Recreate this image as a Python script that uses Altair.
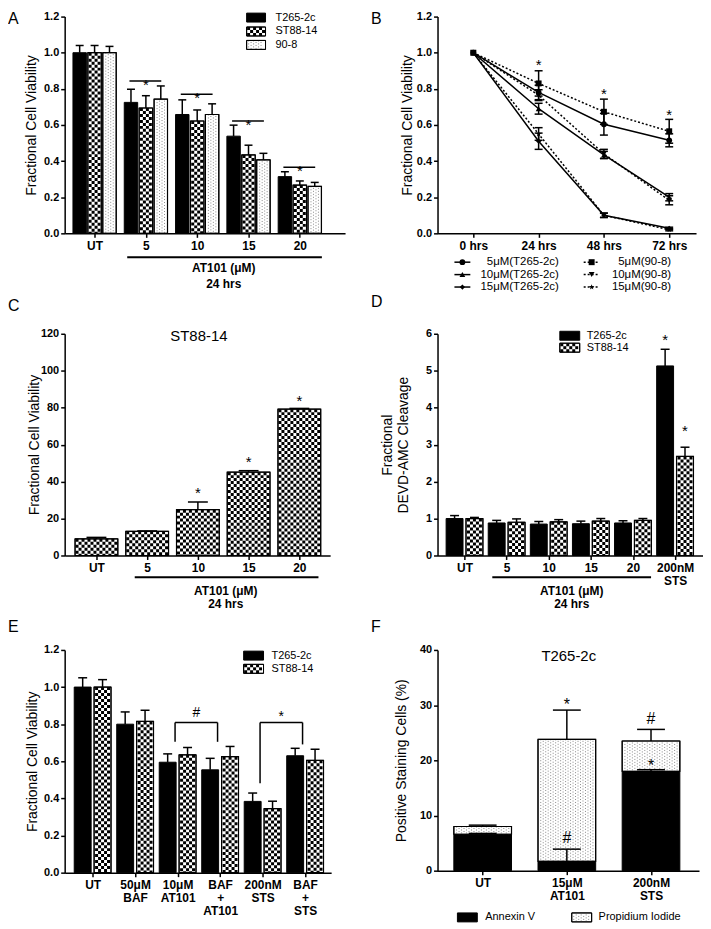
import json
import altair as alt
import pandas as pd

FONT = "Liberation Sans"
ONE = pd.DataFrame({"k": [0]})
STAR = "M0,-1L0.235,-0.324L0.951,-0.309L0.38,0.124L0.588,0.809L0,0.4L-0.588,0.809L-0.38,0.124L-0.951,-0.309L-0.235,-0.324Z"

# ======================= DATA =======================
# Panel A
A_cats = [["UT"], ["5"], ["10"], ["15"], ["20"]]
A_t265 = [1.00, 0.725, 0.658, 0.538, 0.314]
A_t265_err = [0.040, 0.073, 0.081, 0.061, 0.027]
A_st88 = [1.00, 0.694, 0.622, 0.434, 0.267]
A_st88_err = [0.040, 0.068, 0.061, 0.054, 0.023]
A_908 = [1.00, 0.743, 0.658, 0.407, 0.260]
A_908_err = [0.035, 0.073, 0.059, 0.036, 0.022]
A_sig_idx = [1, 2, 3, 4]
A_sig_y = [0.843, 0.770, 0.622, 0.366]

# Panel B
B_times = [["0 hrs"], ["24 hrs"], ["48 hrs"], ["72 hrs"]]
B_series = ["5μM(T265-2c)", "10μM(T265-2c)", "15μM(T265-2c)",
            "5μM(90-8)", "10μM(90-8)", "15μM(90-8)"]
B_5_t265 = [1.0, 0.78, 0.604, 0.515]
B_5_t265_err = [0.0, 0.04, 0.06, 0.036]
B_10_t265 = [1.0, 0.69, 0.434, 0.20]
B_10_t265_err = [0.0, 0.03, 0.02, 0.02]
B_15_t265 = [1.0, 0.51, 0.10, 0.028]
B_15_t265_err = [0.0, 0.045, 0.012, 0.006]
B_5_908 = [1.0, 0.83, 0.673, 0.565]
B_5_908_err = [0.0, 0.07, 0.07, 0.066]
B_10_908 = [1.0, 0.765, 0.44, 0.183]
B_10_908_err = [0.0, 0.03, 0.025, 0.025]
B_15_908 = [1.0, 0.55, 0.10, 0.02]
B_15_908_err = [0.0, 0.035, 0.012, 0.006]
B_sig_idx = [1, 2, 3]
B_sig_y = [0.954, 0.793, 0.676]

# Panel C
C_cats = [["UT"], ["5"], ["10"], ["15"], ["20"]]
C_vals = [9.0, 13.1, 24.8, 45.1, 79.2]
C_err = [0.8, 0.2, 4.1, 0.8, 0.4]
C_sig_idx = [2, 3, 4]
C_sig_y = [35.6, 52.6, 85.5]

# Panel D
D_cats = [["UT"], ["5"], ["10"], ["15"], ["20"], ["200nM", "STS"]]
D_t265 = [1.0, 0.88, 0.85, 0.86, 0.88, 5.13]
D_t265_err = [0.08, 0.07, 0.07, 0.07, 0.06, 0.45]
D_st88 = [1.0, 0.90, 0.91, 0.93, 0.95, 2.68]
D_st88_err = [0.03, 0.09, 0.06, 0.07, 0.05, 0.25]
D_sig_t265 = [5.94]
D_sig_st88 = [3.46]

# Panel E
E_cats = [["UT"], ["50μM", "BAF"], ["10μM", "AT101"], ["BAF", "+", "AT101"],
          ["200nM", "STS"], ["BAF", "+", "STS"]]
E_t265 = [1.0, 0.80, 0.595, 0.554, 0.384, 0.63]
E_t265_err = [0.05, 0.066, 0.045, 0.062, 0.045, 0.04]
E_st88 = [1.0, 0.815, 0.635, 0.625, 0.345, 0.605]
E_st88_err = [0.04, 0.06, 0.04, 0.055, 0.04, 0.06]
E_brackets = [(2, 3, 0.809, 0.705, 0.705, "#"), (4, 5, 0.809, 0.482, 0.691, "*")]

# Panel F
F_cats = [["UT"], ["15μM", "AT101"], ["200nM", "STS"]]
F_annexin = [6.6, 1.7, 18.0]
F_annexin_err = [0.15, 2.2, 0.3]
F_total = [8.0, 23.8, 23.5]
F_total_err = [0.25, 5.3, 2.1]
F_marks = [(1, 30.8, "*"), (1, 6.0, "#"), (2, 27.5, "#"), (2, 19.8, "*")]


# ======================= HELPERS =======================
def dom(first, step, W):
    lo = -first / step
    return [lo, lo + W / step]


def xaxis(labels):
    return alt.Axis(values=list(range(len(labels))),
                    labelExpr=json.dumps(labels, ensure_ascii=False) + "[datum.value]",
                    title=None, grid=False, domainColor="black", domainWidth=1.5,
                    tickColor="black", tickWidth=1.5, tickSize=4,
                    labelFont=FONT, labelFontSize=12, labelFontWeight="bold",
                    labelColor="black", labelPadding=3, labelLineHeight=13,
                    labelAngle=0, labelFlush=False, labelOverlap=False)


def yaxis(H, values, fmt, title, titleX):
    return alt.Axis(values=values, format=fmt, title=title, grid=False,
                    domainColor="black", domainWidth=1.5, tickColor="black",
                    tickWidth=1.5, tickSize=4, labelFont=FONT, labelFontSize=11,
                    labelFontWeight="bold", labelColor="black", labelPadding=2,
                    titleFont=FONT, titleFontSize=14, titleFontWeight="normal",
                    titleColor="black", titleX=titleX, titleY=H / 2, titleAngle=270,
                    titleAlign="center", titleBaseline="alphabetic")


def enc(xs, xa, ys, ya):
    def X(f):
        return alt.X(f + ":Q", scale=xs, axis=xa)

    def Y(f):
        return alt.Y(f + ":Q", scale=ys, axis=ya)
    return X, Y


def series_df(vals, errs=None, base=None):
    n = len(vals)
    d = pd.DataFrame({"idx": list(range(n)), "top": vals})
    d["bot"] = base if base is not None else [0.0] * n
    if errs is not None:
        d["hi"] = [v + e for v, e in zip(vals, errs)]
        d["lo"] = [v - e for v, e in zip(vals, errs)]
    return d


def pattern_rules(df, X, Y, xoff, width, kind):
    L = []
    if kind == "checker":
        c = 3
        n = int((width - 1) // c)
        start = xoff - n * c / 2 + c / 2
        for k in range(n):
            L.append(alt.Chart(df).mark_rule(
                xOffset=start + k * c, strokeWidth=c, strokeDash=[c, c],
                strokeDashOffset=(c if k % 2 else 0), color="black", strokeCap="butt"
            ).encode(x=X("idx"), y=Y("top"), y2=alt.Y2("bot")))
    elif kind == "dots":
        c = 2.5
        n = int((width - 2) // c)
        start = xoff - (n - 1) * c / 2
        for k in range(n):
            L.append(alt.Chart(df).mark_rule(
                xOffset=start + k * c, strokeWidth=1, strokeDash=[1, 2],
                strokeDashOffset=(1.5 if k % 2 else 0), color="#8a8a8a", strokeCap="butt"
            ).encode(x=X("idx"), y=Y("top"), y2=alt.Y2("bot")))
    return L


def bars(df, X, Y, width, xoff, kind):
    fill = "black" if kind == "black" else "white"
    L = [alt.Chart(df).mark_bar(width=width, xOffset=xoff, fill=fill, stroke="black",
                                strokeWidth=1).encode(x=X("idx"), y=Y("top"), y2=alt.Y2("bot"))]
    L += pattern_rules(df, X, Y, xoff, width, kind)
    if kind != "black":
        L.append(alt.Chart(df).mark_bar(width=width, xOffset=xoff, fillOpacity=0,
                                        stroke="black", strokeWidth=1.2)
                 .encode(x=X("idx"), y=Y("top"), y2=alt.Y2("bot")))
    return L


def errbars(df, X, Y, xoff, cap, lo="top", both=False):
    L = [alt.Chart(df).mark_rule(xOffset=xoff, strokeWidth=1.5, color="black")
         .encode(x=X("idx"), y=Y(lo), y2=alt.Y2("hi")),
         alt.Chart(df).mark_tick(xOffset=xoff, size=cap, thickness=1.5, orient="horizontal",
                                 color="black", opacity=1).encode(x=X("idx"), y=Y("hi"))]
    if both:
        L.append(alt.Chart(df).mark_tick(xOffset=xoff, size=cap, thickness=1.5,
                                         orient="horizontal", color="black", opacity=1)
                 .encode(x=X("idx"), y=Y(lo)))
    return L


def txt(text, x, y, size=12, weight="normal", align="center", baseline="middle"):
    return alt.Chart(ONE).mark_text(text=text, font=FONT, fontSize=size, fontWeight=weight,
                                    align=align, baseline=baseline, color="black") \
        .encode(x=alt.value(x), y=alt.value(y))


def sym_text(df, X, Y, sym, size=15, xoff=0, xfield="idx"):
    dy = 0.58 * size if sym == "*" else 0.35 * size
    return alt.Chart(df).mark_text(text=sym, font=FONT, fontSize=size, dy=dy, dx=xoff,
                                   baseline="alphabetic", align="center", color="black") \
        .encode(x=X(xfield), y=Y("y"))


def swatch(x0, x1, yc, h, kind):
    y0, y1 = yc - h / 2, yc + h / 2
    L = [alt.Chart(ONE).mark_rect(fill=("black" if kind == "black" else "white"),
                                  stroke="black", strokeWidth=1)
         .encode(x=alt.value(x0), x2=alt.value(x1), y=alt.value(y0), y2=alt.value(y1))]
    if kind == "checker":
        n = int((x1 - x0 - 1) // 3)
        for k in range(n):
            L.append(alt.Chart(ONE).mark_rule(strokeWidth=3, strokeDash=[3, 3],
                                              strokeDashOffset=(3 if k % 2 else 0),
                                              color="black", strokeCap="butt")
                     .encode(x=alt.value(x0 + 2 + 3 * k), y=alt.value(y0), y2=alt.value(y1)))
    elif kind == "dots":
        n = int((x1 - x0 - 2) // 2.5)
        for k in range(n):
            L.append(alt.Chart(ONE).mark_rule(strokeWidth=1, strokeDash=[1, 2],
                                              strokeDashOffset=(1.5 if k % 2 else 0),
                                              color="#8a8a8a", strokeCap="butt")
                     .encode(x=alt.value(x0 + 2 + 2.5 * k), y=alt.value(y0), y2=alt.value(y1)))
    if kind != "black":
        L.append(alt.Chart(ONE).mark_rect(fillOpacity=0, stroke="black", strokeWidth=1)
                 .encode(x=alt.value(x0), x2=alt.value(x1), y=alt.value(y0), y2=alt.value(y1)))
    return L


def legend_rows(items, x0, x1, ys, tx, h, size=11):
    L = []
    for (label, kind), y in zip(items, ys):
        L += swatch(x0, x1, y, h, kind)
        L.append(txt(label, tx, y, size, "normal", "left", "middle"))
    return L


def underline(X, x0, x1, py):
    d = pd.DataFrame({"x0": [x0], "x1": [x1]})
    return alt.Chart(d).mark_rule(color="black", strokeWidth=2) \
        .encode(x=X("x0"), x2=alt.X2("x1"), y=alt.value(py))


def letter(s, dx, dy):
    return txt(s, dx, dy, 16, "normal", "left", "top")


# ======================= PANELS =======================
def panel_A():
    W, H = 282, 218
    xs = alt.Scale(domain=dom(26, 53.5, W), nice=False, zero=False)
    ys = alt.Scale(domain=[0, 1.2], nice=False)
    X, Y = enc(xs, xaxis(A_cats), ys,
               yaxis(H, [0, 0.2, 0.4, 0.6, 0.8, 1.0, 1.2], ".1f", "Fractional Cell Viability", -29))
    specs = [(A_t265, A_t265_err, -15, "black"), (A_st88, A_st88_err, 0, "checker"),
             (A_908, A_908_err, 15, "dots")]
    L = []
    for v, e, o, k in specs:
        L += bars(series_df(v, e), X, Y, 13.5, o, k)
    for v, e, o, k in specs:
        L += errbars(series_df(v, e), X, Y, o, 8)
    sig = pd.DataFrame({"idx": A_sig_idx, "y": A_sig_y})
    sig["x0"] = sig["idx"] - 0.32
    sig["x1"] = sig["idx"] + 0.30
    L.append(alt.Chart(sig).mark_rule(color="black", strokeWidth=1.5)
             .encode(x=X("x0"), x2=alt.X2("x1"), y=Y("y")))
    L.append(sym_text(sig, X, Y, "*"))
    L.append(underline(X, 0.636, 4.43, 242))
    L.append(txt("AT101 (μM)", 160, 253, 12, "bold"))
    L.append(txt("24 hrs", 160, 269, 12, "bold"))
    L += legend_rows([("T265-2c", "black"), ("ST88-14", "checker"), ("90-8", "dots")],
                     183, 202, [1, 15, 28.5], 212, 9)
    L.append(letter("A", -57, -6))
    return alt.layer(*L).properties(width=W, height=H)


def panel_B():
    W, H = 260, 218
    xs = alt.Scale(domain=dom(36, 65.67, W), nice=False, zero=False)
    ys = alt.Scale(domain=[0, 1.2], nice=False)
    X, Y = enc(xs, xaxis(B_times), ys,
               yaxis(H, [0, 0.2, 0.4, 0.6, 0.8, 1.0, 1.2], ".1f", "Fractional Cell Viability", -26))
    vals = [B_5_t265, B_10_t265, B_15_t265, B_5_908, B_10_908, B_15_908]
    errs = [B_5_t265_err, B_10_t265_err, B_15_t265_err, B_5_908_err, B_10_908_err, B_15_908_err]
    shapes = ["circle", "triangle-up", "diamond", "square", "triangle-down", STAR]
    sizes = [34, 34, 28, 36, 34, 34]
    rows = []
    for s, v, e in zip(B_series, vals, errs):
        for i, (vv, ee) in enumerate(zip(v, e)):
            rows.append({"series": s, "grp": "T" if "T265" in s else "N", "idx": i,
                         "top": vv, "lo": vv - ee, "hi": vv + ee, "e": ee})
    df = pd.DataFrame(rows)
    L = []
    L.append(alt.Chart(df[df.grp == "T"]).mark_line(color="black", strokeWidth=1.5)
             .encode(x=X("idx"), y=Y("top"), detail="series:N"))
    L.append(alt.Chart(df[df.grp == "N"]).mark_line(color="black", strokeWidth=1.5,
                                                    strokeDash=[2, 2])
             .encode(x=X("idx"), y=Y("top"), detail="series:N"))
    L += errbars(df[df.e > 0], X, Y, 0, 8, lo="lo", both=True)
    for s, sh, sz in zip(B_series, shapes, sizes):
        L.append(alt.Chart(df[df.series == s]).mark_point(shape=sh, size=sz, filled=True,
                                                         color="black", opacity=1)
                 .encode(x=X("idx"), y=Y("top")))
    sig = pd.DataFrame({"idx": B_sig_idx, "y": B_sig_y})
    L.append(sym_text(sig, X, Y, "*"))
    # legend
    ys_leg = [247, 259.5, 272]
    for r in range(3):
        y = ys_leg[r]
        L.append(alt.Chart(ONE).mark_rule(color="black", strokeWidth=1.5)
                 .encode(x=alt.value(17), x2=alt.value(33), y=alt.value(y)))
        L.append(alt.Chart(ONE).mark_point(shape=shapes[r], size=sizes[r], filled=True,
                                           color="black", opacity=1)
                 .encode(x=alt.value(25), y=alt.value(y)))
        L.append(txt(B_series[r], 122, y, 11.5, "normal", "right"))
        L.append(alt.Chart(ONE).mark_rule(color="black", strokeWidth=1.5, strokeDash=[2, 2])
                 .encode(x=alt.value(147), x2=alt.value(163), y=alt.value(y)))
        L.append(alt.Chart(ONE).mark_point(shape=shapes[r + 3], size=sizes[r + 3], filled=True,
                                           color="black", opacity=1)
                 .encode(x=alt.value(155), y=alt.value(y)))
        L.append(txt(B_series[r + 3], 235, y, 11.5, "normal", "right"))
    L.append(letter("B", -67, -6))
    return alt.layer(*L).properties(width=W, height=H)


def panel_C():
    W, H = 267, 223
    xs = alt.Scale(domain=dom(28, 53, W), nice=False, zero=False)
    ys = alt.Scale(domain=[0, 120], nice=False)
    X, Y = enc(xs, xaxis(C_cats), ys,
               yaxis(H, [0, 20, 40, 60, 80, 100, 120], "d", "Fractional Cell Viability", -26))
    d = series_df(C_vals, C_err)
    L = bars(d, X, Y, 43, 0, "checker")
    L += errbars(d, X, Y, 0, 20)
    sig = pd.DataFrame({"idx": C_sig_idx, "y": C_sig_y})
    L.append(sym_text(sig, X, Y, "*"))
    L.append(txt("ST88-14", 135, 2, 15))
    L.append(underline(X, 0.755, 4.377, 245))
    L.append(txt("AT101 (μM)", 162, 259, 12, "bold"))
    L.append(txt("24 hrs", 162, 272, 12, "bold"))
    L.append(letter("C", -57, -36))
    return alt.layer(*L).properties(width=W, height=H)


def panel_D():
    W, H = 267, 223
    xs = alt.Scale(domain=dom(23, 44, W), nice=False, zero=False)
    ys = alt.Scale(domain=[0, 6], nice=False)
    X, Y = enc(xs, xaxis(D_cats), ys,
               yaxis(H, [0, 1, 2, 3, 4, 5, 6], "d", ["Fractional", "DEVD-AMC Cleavage"], -46))
    L = []
    specs = [(D_t265, D_t265_err, -10, "black"), (D_st88, D_st88_err, 10, "checker")]
    for v, e, o, k in specs:
        L += bars(series_df(v, e), X, Y, 17, o, k)
    for v, e, o, k in specs:
        L += errbars(series_df(v, e), X, Y, o, 9)
    L.append(sym_text(pd.DataFrame({"idx": [5], "y": D_sig_t265}), X, Y, "*", xoff=-10))
    L.append(sym_text(pd.DataFrame({"idx": [5], "y": D_sig_st88}), X, Y, "*", xoff=10))
    L += legend_rows([("T265-2c", "black"), ("ST88-14", "checker")], 123, 143, [2, 14], 150, 9)
    L.append(underline(X, 0.66, 4.43, 245))
    L.append(txt("AT101 (μM)", 135, 259, 12, "bold"))
    L.append(txt("24 hrs", 135, 272, 12, "bold"))
    L.append(letter("D", -67, -40))
    return alt.layer(*L).properties(width=W, height=H)


def panel_E():
    W, H = 268, 224
    xs = alt.Scale(domain=dom(24, 44.4, W), nice=False, zero=False)
    ys = alt.Scale(domain=[0, 1.2], nice=False)
    X, Y = enc(xs, xaxis(E_cats), ys,
               yaxis(H, [0, 0.2, 0.4, 0.6, 0.8, 1.0, 1.2], ".1f", "Fractional Cell Viability", -28))
    L = []
    specs = [(E_t265, E_t265_err, -10, "black"), (E_st88, E_st88_err, 10, "checker")]
    for v, e, o, k in specs:
        L += bars(series_df(v, e), X, Y, 17, o, k)
    for v, e, o, k in specs:
        L += errbars(series_df(v, e), X, Y, o, 9)
    segs, syms = [], []
    for a, b, top, la, lb, s in E_brackets:
        xa_, xb_ = a - 0.06, b - 0.06
        segs += [{"x0": xa_, "x1": xb_, "y0": top, "y1": top},
                 {"x0": xa_, "x1": xa_, "y0": la, "y1": top},
                 {"x0": xb_, "x1": xb_, "y0": lb, "y1": top}]
        syms.append({"xm": (xa_ + xb_) / 2, "y": top + 0.054, "s": s})
    L.append(alt.Chart(pd.DataFrame(segs)).mark_rule(color="black", strokeWidth=1.5)
             .encode(x=X("x0"), x2=alt.X2("x1"), y=Y("y0"), y2=alt.Y2("y1")))
    for s in syms:
        L.append(sym_text(pd.DataFrame([s]), X, Y, s["s"], size=14, xfield="xm"))
    L += legend_rows([("T265-2c", "black"), ("ST88-14", "checker")], 180, 200, [5.7, 19], 208, 9)
    L.append(letter("E", -57, -31))
    return alt.layer(*L).properties(width=W, height=H)


def panel_F():
    W, H = 263, 222
    xs = alt.Scale(domain=dom(42, 88, W), nice=False, zero=False)
    ys = alt.Scale(domain=[0, 40], nice=False)
    X, Y = enc(xs, xaxis(F_cats), ys,
               yaxis(H, [0, 10, 20, 30, 40], "d", "Positive Staining Cells (%)", -32))
    ann = series_df(F_annexin, F_annexin_err)
    tot = series_df(F_total, F_total_err, base=F_annexin)
    L = []
    L += bars(ann, X, Y, 58, 0, "black")
    L += bars(tot, X, Y, 58, 0, "dots")
    L += errbars(tot, X, Y, 0, 28)
    L += errbars(ann, X, Y, 0, 28)
    for i, y, s in F_marks:
        L.append(sym_text(pd.DataFrame({"idx": [i], "y": [y]}), X, Y, s, size=16))
    L.append(txt("T265-2c", 132, 6, 15))
    L += legend_rows([("Annexin V", "black")], 20, 40, [269], 48, 9)
    L += legend_rows([("Propidium Iodide", "dots")], 135, 155, [269], 162, 9)
    L.append(letter("F", -67, -31))
    return alt.layer(*L).properties(width=W, height=H)


col1 = alt.vconcat(panel_A(),
                   alt.vconcat(panel_C(), panel_E(), spacing=95, bounds="flush"),
                   spacing=101, bounds="flush")
col2 = alt.vconcat(panel_B(),
                   alt.vconcat(panel_D(), panel_F(), spacing=95, bounds="flush"),
                   spacing=101, bounds="flush")

chart = alt.hconcat(col1, col2, spacing=26).properties(
    padding=0, background="white"
).configure_view(stroke=None)

chart.save("out.html", embed_options={"renderer": "svg", "actions": False})
